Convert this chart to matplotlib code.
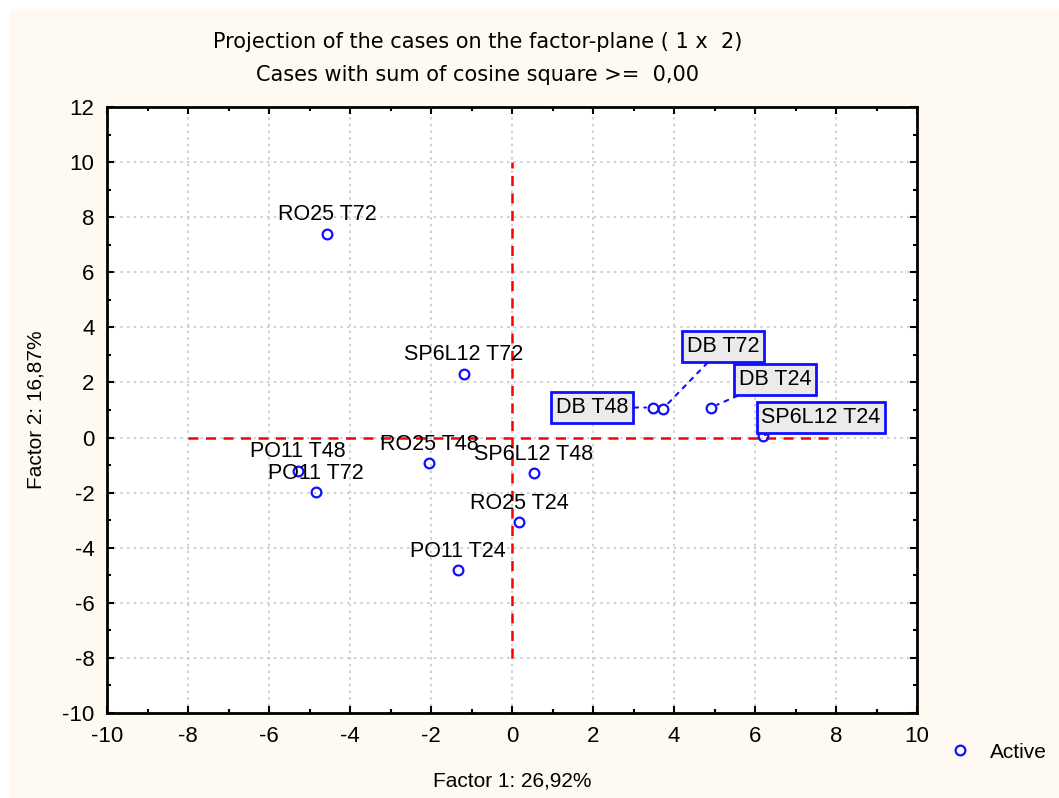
import numpy as np
import matplotlib
matplotlib.use('Agg')
from matplotlib import pyplot as plt
from matplotlib import font_manager
from matplotlib.patches import Rectangle

# ---------------- data: factor scores of the cases ----------------
labels = ['RO25 T72', 'SP6L12 T72', 'DB T48', 'DB T72', 'DB T24', 'SP6L12 T24',
          'PO11 T48', 'PO11 T72', 'RO25 T48', 'SP6L12 T48', 'RO25 T24', 'PO11 T24']
factor1 = [-4.57, -1.19, 3.48, 3.73, 4.91, 6.20, -5.28, -4.84, -2.05, 0.54, 0.17, -1.33]
factor2 = [7.39, 2.32, 1.09, 1.05, 1.09, 0.07, -1.20, -1.99, -0.94, -1.30, -3.08, -4.82]
boxed = ['DB T48', 'DB T72', 'DB T24', 'SP6L12 T24']
# label offsets in pixels for the boxed labels
box_offsets = {'DB T48': (-61, 0), 'DB T72': (60, 62), 'DB T24': (64, 28), 'SP6L12 T24': (58, 18)}


def pick(cands):
    for c in cands:
        try:
            font_manager.findfont(c, fallback_to_default=False)
            return c
        except ValueError:
            pass
    return 'DejaVu Sans'


main_font = pick(['Arial', 'Liberation Sans', 'Arimo'])
narrow_font = pick(['Arial Narrow', 'Liberation Sans Narrow'])

bg = '#fffaf1'
plt.rcParams['font.family'] = [main_font, 'DejaVu Sans']
plt.rcParams['axes.unicode_minus'] = False

fig = plt.figure(figsize=(10.59, 7.98), dpi=100, facecolor='white')
# cream panel with a thin white margin on top and left
fig.patches.append(Rectangle((9 / 1059, -0.05), 1.1, 1.05 - 9 / 798, transform=fig.transFigure,
                             facecolor=bg, edgecolor='none', zorder=-10))

ax = fig.add_axes([107 / 1059, 1 - 713 / 798, 810 / 1059, 606 / 798])
ax.set_facecolor('white')

ax.set_xlim(-10, 10)
ax.set_ylim(-10, 12)
ax.set_xticks(np.arange(-10, 11, 2))
ax.set_yticks(np.arange(-10, 13, 2))
ax.set_xticks(np.arange(-10, 11, 1), minor=True)
ax.set_yticks(np.arange(-10, 13, 1), minor=True)
ax.tick_params(which='both', direction='in', top=True, right=True, labelsize=16, width=1.5, pad=9)
ax.tick_params(which='major', length=5)
ax.tick_params(which='minor', length=3)
for s in ax.spines.values():
    s.set_linewidth(2)
ax.grid(True, which='major', color='#c8c8c8', linestyle=(0, (1.5, 2.5)), linewidth=1.2)

# red cross at origin
ax.plot([-8, 8], [0, 0], color='red', linestyle=(0, (4, 3)), linewidth=1.8, zorder=2)
ax.plot([0, 0], [-8, 10], color='red', linestyle=(0, (4, 3)), linewidth=1.8, zorder=2)

ax.plot(factor1, factor2, 'o', markerfacecolor='none', markeredgecolor='#1010ff',
        markersize=7, markeredgewidth=1.6, linestyle='none', zorder=4, label='Active')

for name, x, y in zip(labels, factor1, factor2):
    if name in boxed:
        dx, dy = box_offsets[name]
        ax.annotate(name, (x, y), xytext=(dx, dy), textcoords='offset pixels',
                    ha='center', va='center', fontsize=15.5, zorder=6,
                    bbox=dict(boxstyle='square,pad=0.22', fc='#ebebeb', ec='#1010ff', lw=2),
                    arrowprops=dict(arrowstyle='-', color='#1010ff', linestyle=(0, (2, 3)),
                                    linewidth=1.5, shrinkA=0, shrinkB=5))
    else:
        ax.annotate(name, (x, y), xytext=(0, 19), textcoords='offset pixels',
                    ha='center', va='center', fontsize=15.5, zorder=5)

ax.set_xlabel('Factor 1: 26,92%', fontsize=15, labelpad=18)
ax.set_ylabel('Factor 2: 16,87%', fontsize=15, labelpad=12)

title_kw = dict(ha='center', va='center', fontsize=17 if narrow_font != 'DejaVu Sans' else 15,
                family=narrow_font)
fig.text(478 / 1059, 1 - 42 / 798, 'Projection of the cases on the factor-plane ( 1 x  2)', **title_kw)
fig.text(478 / 1059, 1 - 75 / 798, 'Cases with sum of cosine square >=  0,00', **title_kw)

ax.legend(loc='center left', bbox_to_anchor=(947 / 1059, 1 - 752 / 798), bbox_transform=fig.transFigure,
          frameon=False, fontsize=15, borderpad=0, borderaxespad=0, handlelength=1.2,
          handletextpad=0.85)

fig.savefig('out.png', dpi=100, facecolor='white')
